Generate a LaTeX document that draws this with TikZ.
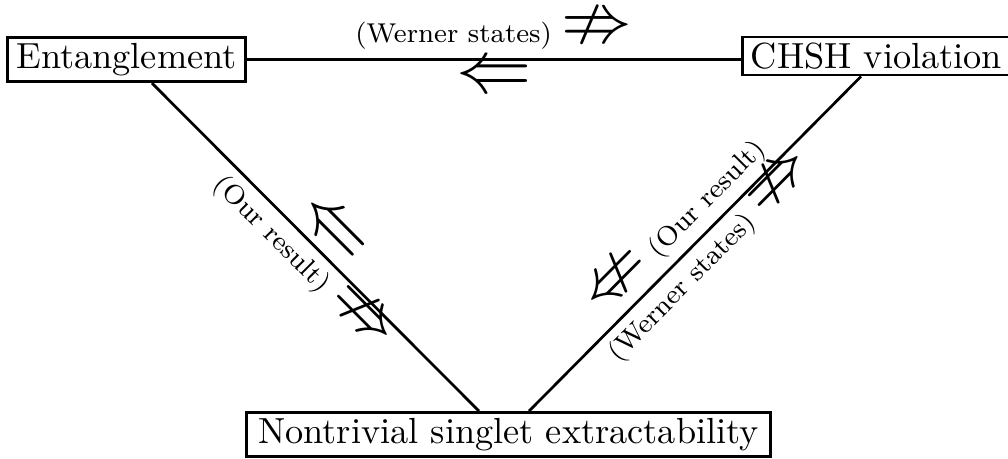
\documentclass[tikz,border=0pt]{standalone}
\usepackage{amssymb}
\usetikzlibrary{calc}
\newcommand{\lblfont}{\fontsize{7.5}{9}\selectfont}
\newcommand{\arrfont}{\fontsize{19.5}{22}\selectfont}
\begin{document}
\begin{tikzpicture}[x=0.27548pt,y=-0.27548pt,
  box/.style={draw, line width=0.75pt, inner xsep=2.4pt, inner ysep=1.6pt, anchor=base, font=\fontsize{10}{12}\selectfont},
  link/.style={line width=0.75pt},
  lbl/.style={sloped, midway, inner sep=0pt, font=\lblfont}]
\useasboundingbox (0,0) rectangle (1008,459);
\node[box] (E) at (126.5,68.5) {Entanglement};
\node[box] (C) at (876.5,68.5) {CHSH violation};
\node[box, inner xsep=3.3pt] (N) at (508.5,443.5) {Nontrivial singlet extractability};
\draw[link] (E.east) -- (E.east -| C.west)
  node[lbl, above=2.6pt] {(Werner states) {\arrfont$\nRightarrow$}}
  node[lbl, below=1.2pt] {\arrfont$\Leftarrow$};
\draw[link] ($(E.south)+(25.5,0)$) -- ($(N.north)+(-29.5,0)$)
  node[lbl, above=2.3pt] {\arrfont$\Leftarrow$}
  node[lbl, below=0.5pt] {(Our result) {\arrfont$\nRightarrow$}};
\draw[link] ($(N.north)+(20.5,0)$) -- ($(C.south)+(-15.5,0)$)
  node[lbl, above=2pt] {{\arrfont$\nLeftarrow$} (Our result)}
  node[lbl, below=0.5pt] {(Werner states) {\arrfont$\nRightarrow$}};
\end{tikzpicture}
\end{document}
